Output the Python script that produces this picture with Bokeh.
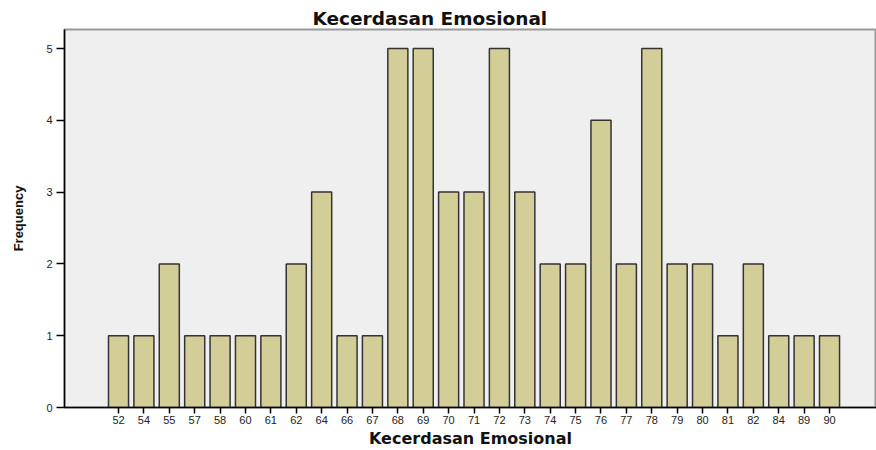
from bokeh.plotting import figure
from bokeh.models import Range1d, FixedTicker, ColumnDataSource
from bokeh.embed import file_html
from bokeh.resources import INLINE

categories = ["52", "54", "55", "57", "58", "60", "61", "62", "64", "66", "67", "68", "69", "70", "71",
              "72", "73", "74", "75", "76", "77", "78", "79", "80", "81", "82", "84", "89", "90"]
frequency = [1, 1, 2, 1, 1, 1, 1, 2, 3, 1, 1, 5, 5, 3, 3, 5, 3, 2, 2, 4, 2, 5, 2, 2, 1, 2, 1, 1, 1]
y_ticks = [0, 1, 2, 3, 4, 5]

idx = list(range(len(categories)))
src = ColumnDataSource(dict(x=idx, top=frequency, cat=categories))

p = figure(width=876, height=450, output_backend="svg", toolbar_location=None,
           x_range=Range1d(-2.127, 29.85), y_range=Range1d(0, 5.265),
           min_border_left=64, min_border_right=0, min_border_top=29, min_border_bottom=43)

p.title.text = "Kecerdasan Emosional"
p.title.align = "left"
p.title.text_font = "DejaVu Sans"
p.title.text_font_size = "18.5px"
p.title.text_font_style = "bold"
p.title.text_color = "#111111"
p.title.offset = 248
p.title.standoff = 2

p.background_fill_color = "#efefef"
p.border_fill_color = "white"
p.outline_line_color = "#999999"
p.outline_line_width = 2
p.grid.visible = False

p.vbar(x="x", top="top", width=0.79, bottom=0, source=src,
       fill_color="#d3ce97", line_color="#333333", line_width=1.5)

p.xaxis.ticker = FixedTicker(ticks=idx)
p.xaxis.major_label_overrides = {i: c for i, c in zip(idx, categories)}
p.yaxis.ticker = FixedTicker(ticks=y_ticks)

for ax in (p.xaxis[0], p.yaxis[0]):
    ax.axis_line_color = "#000000"
    ax.axis_line_width = 1.5
    ax.major_tick_line_color = "#000000"
    ax.major_tick_line_width = 1.5
    ax.minor_tick_line_color = None
    ax.major_tick_in = 0
    ax.major_label_text_font = "Liberation Sans"
    ax.major_label_text_font_size = "11px"
    ax.major_label_text_color = "#222222"
    ax.axis_label_text_font_style = "bold"
    ax.axis_label_text_color = "#111111"

p.xaxis.major_tick_out = 6
p.xaxis.major_label_standoff = 2
p.yaxis.major_tick_out = 8
p.yaxis.major_label_standoff = 4

p.xaxis.axis_label = "Kecerdasan Emosional"
p.xaxis.axis_label_text_font = "DejaVu Sans"
p.xaxis.axis_label_text_font_size = "16px"
p.xaxis.axis_label_standoff = 2

p.yaxis.axis_label = "Frequency"
p.yaxis.axis_label_text_font = "Liberation Sans"
p.yaxis.axis_label_text_font_size = "13px"
p.yaxis.axis_label_standoff = 17

open("out.html", "w").write(file_html(p, INLINE))
